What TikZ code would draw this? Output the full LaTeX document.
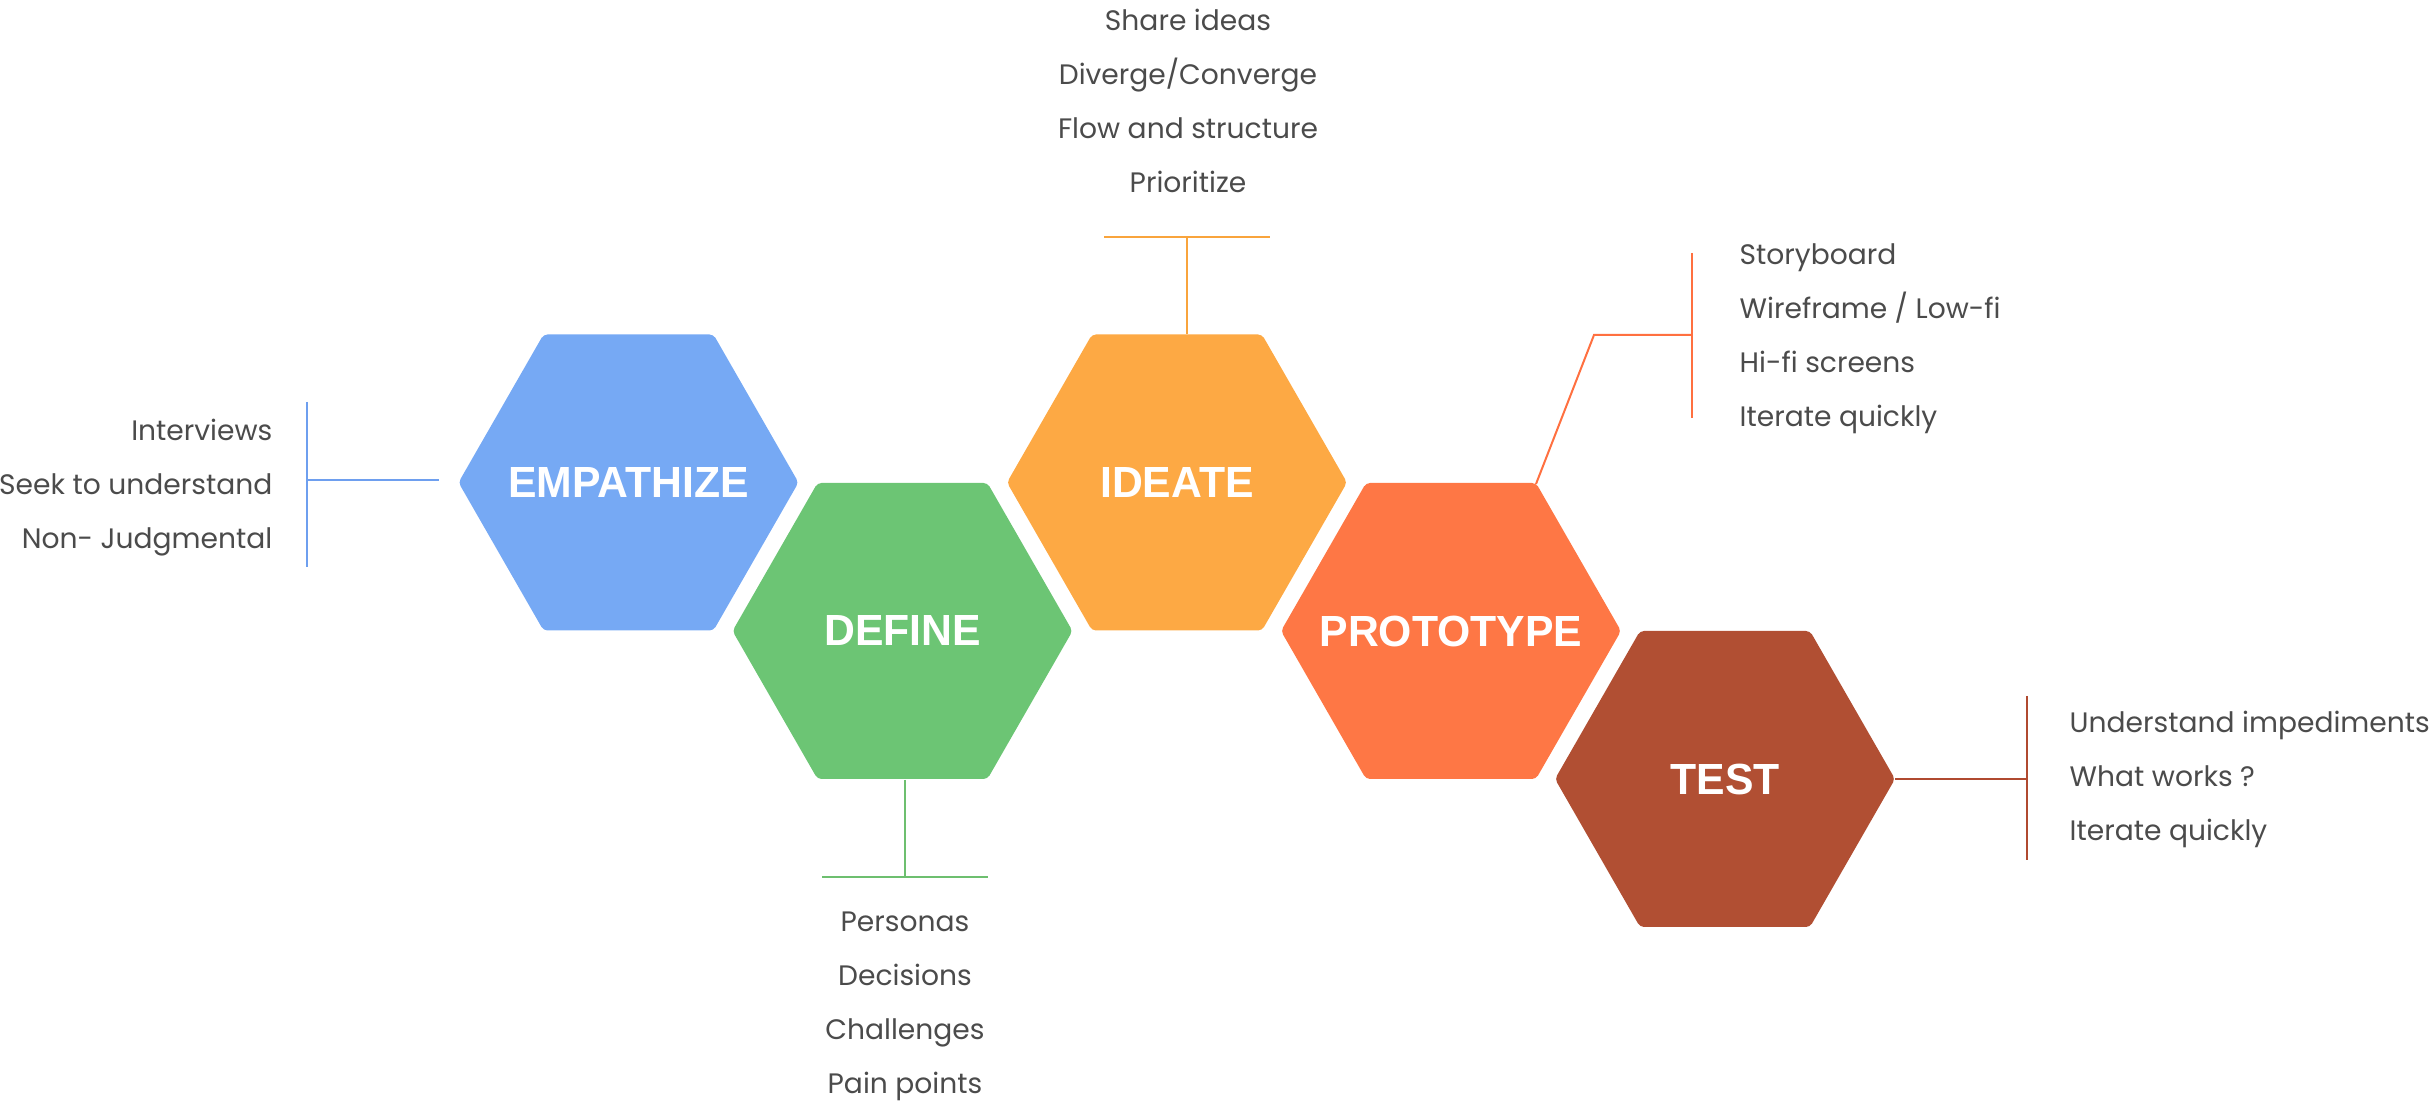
\documentclass[tikz,border=0pt]{standalone}
\usepackage{fontspec}
\setmainfont{Poppins}
\newfontfamily\hexfont[FakeStretch=0.98]{Liberation Sans}
\usetikzlibrary{calc}
\definecolor{empC}{HTML}{76A9F4}
\definecolor{defC}{HTML}{6CC574}
\definecolor{ideC}{HTML}{FDA944}
\definecolor{proC}{HTML}{FE7745}
\definecolor{tstC}{HTML}{B14F33}
\definecolor{empL}{HTML}{6E9FEF}
\definecolor{defL}{HTML}{6DBF6F}
\definecolor{ideL}{HTML}{F9A43C}
\definecolor{proL}{HTML}{FF7040}
\definecolor{tstL}{HTML}{B04A30}
\definecolor{txt}{HTML}{4B4B4B}
\tikzset{
  hexlabel/.style={inner sep=0pt, text=white,
    font=\hexfont\bfseries\fontsize{12.4pt}{12.4pt}\selectfont},
  hexfill/.style={rounded corners=0.04cm},
  item/.style={inner sep=0pt, text=txt, font=\fontsize{8.0pt}{10pt}\selectfont},
  conn/.style={line width=0.02cm}
}
\newcommand{\hexpath}[1]{+(-170,0) -- +(-85,-148) -- +(85,-148) -- +(170,0) -- +(85,148) -- +(-85,148) -- cycle}
\begin{document}
\begin{tikzpicture}[x=0.01cm,y=-0.01cm]
\useasboundingbox (0,0) rectangle (2432,1104);
% hexagons
\fill[hexfill, empC] (628.5,482.5) \hexpath{};
\fill[hexfill, defC] (902.5,631) \hexpath{};
\fill[hexfill, ideC] (1177,482.5) \hexpath{};
\fill[hexfill, proC] (1451,631) \hexpath{};
\fill[hexfill, tstC] (1725,779) \hexpath{};
\node[hexlabel] (emp) at (628.5,482.5) {EMPATHIZE};
\node[hexlabel] (def) at (902.5,631) {DEFINE};
\node[hexlabel] (ide) at (1177,482.5) {IDEATE};
\node[hexlabel] (pro) at (1451,631) {PROTOTYPE};
\node[hexlabel] (tst) at (1725,779) {TEST};
% empathize
\coordinate (eb1) at (307,402);
\coordinate (eb2) at (307,567);
\coordinate (ebm) at (307,480);
\coordinate (eh) at (439,480);
\draw[conn, empL] (eb1) -- (eb2);
\draw[conn, empL] (ebm) -- (eh);
\node[item, anchor=base east] (e1) at (273,441) {Interviews};
\node[item, anchor=base east] (e2) at (273,495) {Seek to understand};
\node[item, anchor=base east] (e3) at (273,549) {Non- Judgmental};
% define
\coordinate (ds) at (905,780);
\coordinate (dm) at (905,877);
\coordinate (db1) at (822,877);
\coordinate (db2) at (988,877);
\draw[conn, defL] (ds) -- (dm);
\draw[conn, defL] (db1) -- (db2);
\node[item, anchor=base] (d1) at (905,932) {Personas};
\node[item, anchor=base] (d2) at (905,986) {Decisions};
\node[item, anchor=base] (d3) at (905,1040) {Challenges};
\node[item, anchor=base] (d4) at (905,1094) {Pain points};
% ideate
\coordinate (is) at (1187,334);
\coordinate (im) at (1187,237);
\coordinate (ib1) at (1104,237);
\coordinate (ib2) at (1270,237);
\draw[conn, ideL] (is) -- (im);
\draw[conn, ideL] (ib1) -- (ib2);
\node[item, anchor=base] (i1) at (1188,31) {Share ideas};
\node[item, anchor=base] (i2) at (1188,85) {Diverge/Converge};
\node[item, anchor=base] (i3) at (1188,139) {Flow and structure};
\node[item, anchor=base] (i4) at (1188,193) {Prioritize};
% prototype
\coordinate (pc) at (1536,484);
\coordinate (pk) at (1594,335);
\coordinate (pm) at (1692,335);
\coordinate (pb1) at (1692,253);
\coordinate (pb2) at (1692,418);
\draw[conn, proL] (pc) -- (pk) -- (pm);
\draw[conn, proL] (pb1) -- (pb2);
\node[item, anchor=base west] (p1) at (1739,265) {Storyboard};
\node[item, anchor=base west] (p2) at (1739,319) {Wireframe / Low-fi};
\node[item, anchor=base west] (p3) at (1739,373) {Hi-fi screens};
\node[item, anchor=base west] (p4) at (1739,427) {Iterate quickly};
% test
\coordinate (te) at (1895,779);
\coordinate (tm) at (2027,779);
\coordinate (tb1) at (2027,696);
\coordinate (tb2) at (2027,860);
\draw[conn, tstL] (te) -- (tm);
\draw[conn, tstL] (tb1) -- (tb2);
\node[item, anchor=base west] (t1) at (2069,733) {Understand impediments};
\node[item, anchor=base west] (t2) at (2069,787) {What works ?};
\node[item, anchor=base west] (t3) at (2069,841) {Iterate quickly};
\end{tikzpicture}
\end{document}
